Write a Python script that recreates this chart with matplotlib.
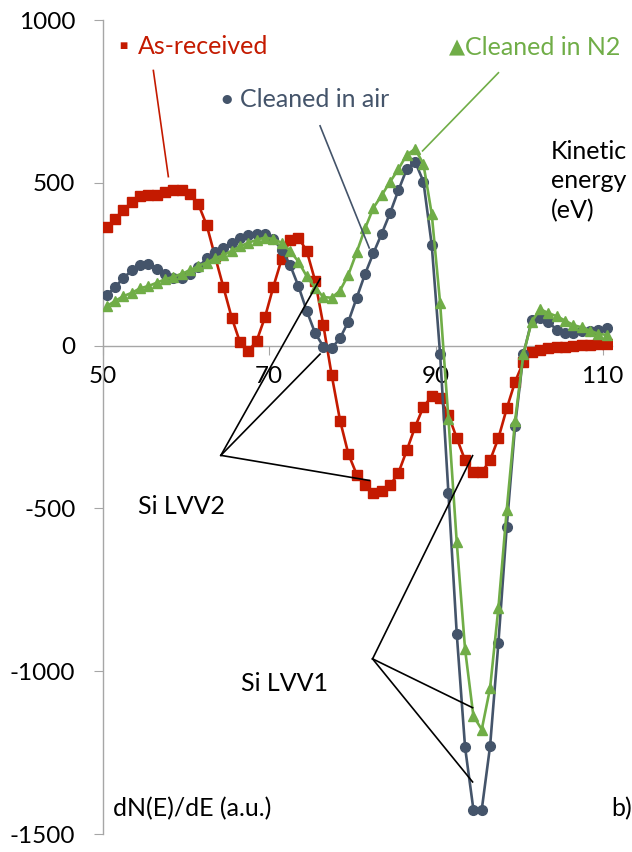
import numpy as np
import matplotlib
matplotlib.use("Agg")
import matplotlib.pyplot as plt

plt.rcParams['font.family'] = ['Lato', 'DejaVu Sans']
plt.rcParams['axes.unicode_minus'] = False

# kinetic energy (eV), 1 eV steps
energy = [50.5 + i for i in range(61)]

as_received = [363, 390, 416, 441, 459, 462, 464, 471, 479, 479,
               467, 434, 370, 274, 180, 86, 10, -17, 15, 88,
               181, 266, 325, 332, 291, 200, 62, -91, -230, -333,
               -396, -429, -452, -448, -429, -391, -322, -250, -188, -156,
               -161, -213, -284, -352, -389, -389, -352, -284, -193, -111,
               -50, -20, -12, -8, -5, -3, -1, 1, 3, 5, 6]

cleaned_air = [155, 180, 207, 231, 248, 250, 236, 219, 207, 207,
               219, 241, 268, 288, 301, 314, 329, 339, 344, 342,
               327, 294, 248, 183, 107, 39, -3, -8, 23, 74,
               147, 220, 284, 344, 407, 477, 542, 565, 504, 309,
               -25, -452, -885, -1234, -1425, -1425, -1230, -912, -556, -246,
               -26, 78, 86, 73, 48, 40, 40, 44, 44, 49, 54]

cleaned_n2 = [121, 137, 152, 162, 176, 183, 193, 204, 211, 221,
              231, 245, 255, 268, 278, 291, 305, 316, 325, 332,
              327, 316, 291, 258, 213, 178, 149, 147, 169, 218,
              287, 360, 423, 462, 503, 542, 586, 604, 558, 404,
              132, -224, -604, -933, -1138, -1179, -1052, -805, -504, -230,
              -25, 74, 112, 100, 90, 77, 63, 56, 46, 36, 33]

x_ticks = [50, 70, 90, 110]
y_ticks = [-1500, -1000, -500, 0, 500, 1000]

# annotation pointer lines (data coords): vertex, then targets
lvv2_vertex = (64.2, -337)
lvv2_targets = [(76.1, 205), (76.1, -26), (82.0, -414)]
lvv1_vertex = (82.4, -962)
lvv1_targets = [(94.4, -338), (94.4, -1112), (94.4, -1340)]

RED = '#C41A00'
BLUE = '#44546A'
GREEN = '#70AD47'

fig = plt.figure(figsize=(6.32, 8.52), dpi=100)
ax = fig.add_axes([0.1622, 0.0211, 0.8058, 0.9554])

ax.plot(energy, as_received, color=RED, lw=1.9, marker='s', ms=6.5,
        mec=RED, mfc=RED, zorder=3)
ax.plot(energy, cleaned_air, color=BLUE, lw=1.9, marker='o', ms=7,
        mec=BLUE, mfc=BLUE, zorder=4)
ax.plot(energy, cleaned_n2, color=GREEN, lw=1.9, marker='^', ms=6.5,
        mec=GREEN, mfc=GREEN, zorder=5)

ax.set_xlim(50, 111.1)
ax.set_ylim(-1500, 1000)

for s in ['top', 'right']:
    ax.spines[s].set_visible(False)
ax.spines['left'].set_color('#A6A6A6')
ax.spines['bottom'].set_color('#A6A6A6')
ax.spines['bottom'].set_position(('data', 0))
ax.spines['left'].set_linewidth(1.0)
ax.spines['bottom'].set_linewidth(1.0)

ax.set_xticks(x_ticks)
ax.set_yticks(y_ticks)
ax.tick_params(axis='x', direction='out', length=6.5, color='#A6A6A6',
               labelsize=17.5, pad=8)
ax.tick_params(axis='y', direction='out', length=6.5, color='#A6A6A6',
               labelsize=17.5, pad=13)

# leader lines from series labels
ax.plot([56.1, 57.9], [845, 519], color=RED, lw=1.2, zorder=6)
ax.plot([76.1, 82.0], [675, 300], color=BLUE, lw=1.2, zorder=6)
ax.plot([97.5, 88.4], [838, 598], color=GREEN, lw=1.2, zorder=6)

for vx, vy, tgts in [(lvv2_vertex[0], lvv2_vertex[1], lvv2_targets),
                     (lvv1_vertex[0], lvv1_vertex[1], lvv1_targets)]:
    for tx, ty in tgts:
        ax.plot([vx, tx], [vy, ty], color='black', lw=1.2, zorder=6)

fs = 18
ax.text(51.9, 918, '▪', color=RED, fontsize=fs, va='center', ha='left')
ax.text(54.2, 918, 'As-received', color=RED, fontsize=fs, va='center', ha='left')
ax.text(64.0, 755, '•', color=BLUE, fontsize=fs, va='center', ha='left')
ax.text(66.5, 755, 'Cleaned in air', color=BLUE, fontsize=fs, va='center', ha='left')
ax.text(91.6, 915, '▲', color=GREEN, fontsize=fs - 3, va='center', ha='left')
ax.text(93.5, 915, 'Cleaned in N2', color=GREEN, fontsize=fs, va='center', ha='left')

ax.text(103.8, 506, 'Kinetic\nenergy\n(eV)', fontsize=fs, va='center', ha='left',
        linespacing=1.35)
ax.text(54.2, -494, 'Si LVV2', fontsize=fs, va='center', ha='left')
ax.text(66.6, -1038, 'Si LVV1', fontsize=fs, va='center', ha='left')
ax.text(51.3, -1423, 'dN(E)/dE (a.u.)', fontsize=fs, va='center', ha='left')
ax.text(111.05, -1423, 'b)', fontsize=fs, va='center', ha='left', clip_on=False)

fig.savefig('out.png', dpi=100)
